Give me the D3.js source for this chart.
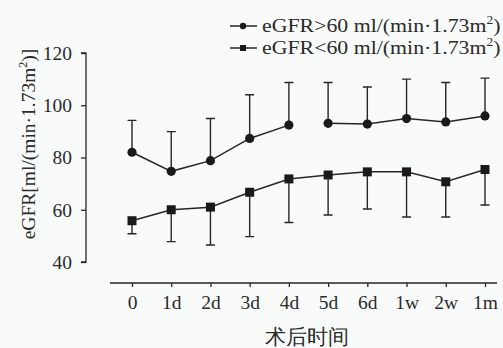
<!DOCTYPE html>
<html>
<head>
<meta charset="utf-8">
<script src="https://cdn.jsdelivr.net/npm/d3@7/dist/d3.min.js"></script>
<style>
  html, body { margin: 0; padding: 0; background: #f9fbfb; }
  svg { display: block; }
  text { font-family: "Liberation Serif", "DejaVu Serif", serif; fill: #2a2a2a; }
</style>
</head>
<body>
<svg id="chart" width="503" height="348"></svg>
<script>
// Postoperative time points
const categories = ["0", "1d", "2d", "3d", "4d", "5d", "6d", "1w", "2w", "1m"];

// eGFR > 60 group: mean and upper SD bound
const gtMean = [82, 74.7, 78.8, 87.3, 92.4, 93.1, 92.8, 94.9, 93.6, 95.9];
const gtUpper = [94.2, 89.9, 94.9, 104, 108.7, 108.7, 107, 110, 108.7, 110.4];
// the line is interrupted after this time point
const gtBreakAfter = ["4d"];

// eGFR < 60 group: mean and lower SD bound
const ltMean = [55.8, 60, 61, 66.7, 71.8, 73.3, 74.5, 74.5, 70.7, 75.4];
const ltLower = [50.8, 47.8, 46.5, 49.7, 55.1, 58, 60.3, 57.2, 57.2, 61.8];

const yTicks = [40, 60, 80, 100, 120];
const legendLabels = ["eGFR>60 ml/(min\u00b71.73m", "eGFR<60 ml/(min\u00b71.73m"];
const yTitle = "eGFR[ml/(min\u00b71.73m";
const xTitle = "术后时间";

const ink = "#262626";
const svg = d3.select("#chart");

const x = d3.scalePoint().domain(categories).range([132, 485]);
const y = d3.scaleLinear().domain([40, 120]).range([262, 53]);

// ---- y axis ----
const yAxisG = svg.append("g").attr("transform", "translate(86,0)")
  .call(d3.axisLeft(y).tickValues(yTicks).tickSize(5).tickPadding(9));
yAxisG.select(".domain").attr("stroke", ink).attr("stroke-width", 1.3).attr("d", `M-5,${y(120)}H0V${y(40)}H-5`);
yAxisG.selectAll(".tick line").attr("stroke", ink).attr("stroke-width", 1.3);
yAxisG.selectAll(".tick text").attr("font-size", 19.5).attr("fill", "#333")
  .attr("font-family", "Liberation Serif, serif");

// ---- x axis (detached below the plot) ----
const xAxisG = svg.append("g").attr("transform", "translate(0,283)")
  .call(d3.axisBottom(x).tickSize(4).tickPadding(8));
xAxisG.select(".domain").attr("stroke", ink).attr("stroke-width", 1.3).attr("d", "M110,0H497");
xAxisG.selectAll(".tick line").attr("stroke", ink).attr("stroke-width", 1.3);
xAxisG.selectAll(".tick text").attr("font-size", 19.5).attr("fill", "#333")
  .attr("font-family", "Liberation Serif, serif");

// ---- axis titles ----
svg.append("text")
  .attr("x", 307).attr("y", 344)
  .attr("text-anchor", "middle")
  .attr("font-family", "Noto Sans CJK SC, sans-serif")
  .attr("font-size", 21).attr("fill", "#333")
  .text(xTitle);

const yt = svg.append("text")
  .attr("transform", "translate(35,144) rotate(-90)")
  .attr("text-anchor", "middle")
  .attr("font-size", 19.5).attr("fill", "#333");
yt.append("tspan").text(yTitle);
yt.append("tspan").attr("font-size", 12).attr("dy", -8).text("2");
yt.append("tspan").attr("dy", 8).text(")]");

// ---- error bars ----
const cap = 4.5;
function errorBars(mean, bound, cls) {
  const g = svg.append("g").attr("class", cls)
    .attr("stroke", ink).attr("stroke-width", 1.4).attr("fill", "none");
  g.selectAll("path").data(categories).join("path")
    .attr("d", (c, i) => `M${x(c)},${y(mean[i])}V${y(bound[i])}M${x(c) - cap},${y(bound[i])}H${x(c) + cap}`);
}
errorBars(gtMean, gtUpper, "err-gt");
errorBars(ltMean, ltLower, "err-lt");

// ---- lines ----
const line = d3.line().x(d => x(d.c)).y(d => y(d.v));
const gtPts = categories.map((c, i) => ({ c, v: gtMean[i] }));
const ltPts = categories.map((c, i) => ({ c, v: ltMean[i] }));

// split the upper series into runs at the break points
const gtRuns = [[]];
gtPts.forEach(p => {
  gtRuns[gtRuns.length - 1].push(p);
  if (gtBreakAfter.includes(p.c)) gtRuns.push([]);
});
svg.append("g").selectAll("path").data(gtRuns).join("path")
  .attr("d", line).attr("fill", "none").attr("stroke", ink).attr("stroke-width", 1.5);
svg.append("path").datum(ltPts)
  .attr("d", line).attr("fill", "none").attr("stroke", ink).attr("stroke-width", 1.5);

// ---- markers ----
svg.append("g").selectAll("circle").data(gtPts).join("circle")
  .attr("cx", d => x(d.c)).attr("cy", d => y(d.v)).attr("r", 4.6).attr("fill", "#1a1a1a");
const sq = 9;
svg.append("g").selectAll("rect").data(ltPts).join("rect")
  .attr("x", d => x(d.c) - sq / 2).attr("y", d => y(d.v) - sq / 2)
  .attr("width", sq).attr("height", sq).attr("fill", "#1a1a1a");

// ---- legend ----
const legendY = [26, 48];
legendLabels.forEach((lab, i) => {
  const g = svg.append("g").attr("transform", `translate(0,${legendY[i]})`);
  g.append("line").attr("x1", 230).attr("x2", 257).attr("y1", 0).attr("y2", 0)
    .attr("stroke", ink).attr("stroke-width", 1.5);
  if (i === 0) {
    g.append("circle").attr("cx", 243).attr("cy", 0).attr("r", 3.2).attr("fill", "#1a1a1a");
  } else {
    g.append("rect").attr("x", 240).attr("y", -3).attr("width", 6).attr("height", 6).attr("fill", "#1a1a1a");
  }
  // slightly widened lettering
  const t = g.append("text").attr("transform", "translate(262,6) scale(1.12,1)")
    .attr("font-size", 19.5).attr("fill", "#333");
  t.append("tspan").text(lab);
  t.append("tspan").attr("font-size", 12).attr("dy", -8).text("2");
  t.append("tspan").attr("dy", 8).text(")");
});
</script>
</body>
</html>
